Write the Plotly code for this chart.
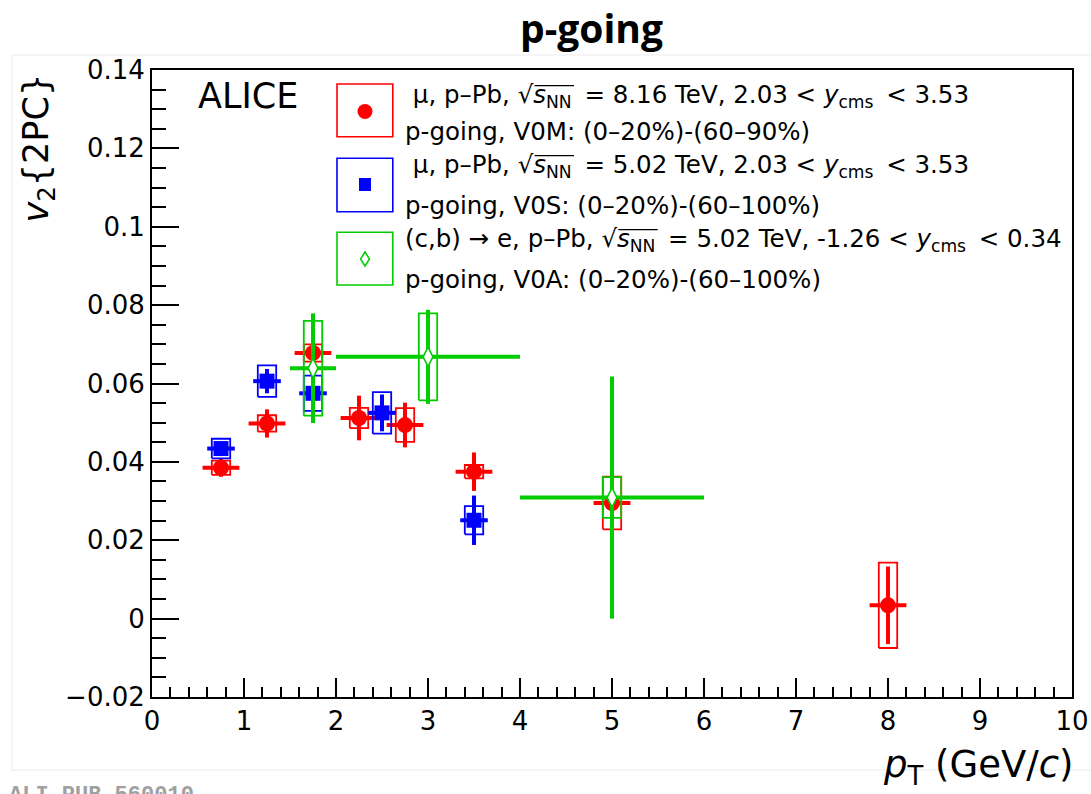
import plotly.graph_objects as go

# ---------------- data ----------------
red_x = [0.75, 1.25, 1.75, 2.25, 2.75, 3.5, 5.0, 8.0]
red_y = [0.0385, 0.0498, 0.0678, 0.0512, 0.0494, 0.0375, 0.0295, 0.0034]
red_xerr = [0.2, 0.2, 0.2, 0.2, 0.2, 0.2, 0.2, 0.2]
red_stat = [0.0023, 0.0036, 0.0020, 0.0057, 0.0057, 0.0049, 0.0030, 0.0099]
red_sys = [0.0018, 0.0021, 0.0022, 0.0026, 0.0043, 0.0017, 0.0067, 0.0109]

blue_x = [0.75, 1.25, 1.75, 2.5, 3.5]
blue_y = [0.0434, 0.0606, 0.0575, 0.0525, 0.0251]
blue_xerr = [0.15, 0.15, 0.15, 0.15, 0.15]
blue_stat = [0.0015, 0.0031, 0.0030, 0.0047, 0.0063]
blue_sys = [0.0025, 0.0040, 0.0045, 0.0053, 0.0036]

green_x = [1.75, 3.0, 5.0]
green_y = [0.0639, 0.0668, 0.0309]
green_xerr = [0.25, 1.0, 1.0]
green_stat = [0.0140, 0.0120, 0.0309]
green_sys = [0.0121, 0.0111, 0.0052]

TS = "\u2009"  # thin space
legend_lines = [
    " μ, p–Pb, √<i>s</i><sub>NN</sub>" + TS + " = 8.16 TeV, 2.03 &lt; <i>y</i><sub>cms</sub>" + TS + " &lt; 3.53",
    "p-going, V0M: (0–20%)-(60–90%)",
    " μ, p–Pb, √<i>s</i><sub>NN</sub>" + TS + " = 5.02 TeV, 2.03 &lt; <i>y</i><sub>cms</sub>" + TS + " &lt; 3.53",
    "p-going, V0S: (0–20%)-(60–100%)",
    "(c,b) → e, p–Pb, √<i>s</i><sub>NN</sub>" + TS + " = 5.02 TeV, -1.26 &lt; <i>y</i><sub>cms</sub>" + TS + " &lt; 0.34",
    "p-going, V0A: (0–20%)-(60–100%)",
]

RED = "#FF0000"
BLUE = "#0000FF"
GREEN = "#00CC00"
FONT = "DejaVu Sans"

W, H = 1091, 794
L, R, T, B = 152, 19, 70, 97
PW, PH = W - L - R, H - T - B


def px(xp):
    return (xp - L) / PW


def py(yp):
    return (H - B - yp) / PH


def box_trace(xs, ys, sys, hw, color):
    bx, by = [], []
    for x, y, s in zip(xs, ys, sys):
        bx += [x - hw, x + hw, x + hw, x - hw, x - hw, None]
        by += [y - s, y - s, y + s, y + s, y - s, None]
    return go.Scatter(x=bx, y=by, mode="lines", line=dict(color=color, width=1.8),
                      hoverinfo="skip", showlegend=False)


def point_trace(xs, ys, xe, ye, color, symbol, size, fill, lw):
    return go.Scatter(
        x=xs, y=ys, mode="markers",
        marker=dict(symbol=symbol, size=size, color=fill, line=dict(color=color, width=lw)),
        error_x=dict(type="data", array=xe, symmetric=True, color=color, thickness=4, width=0),
        error_y=dict(type="data", array=ye, symmetric=True, color=color, thickness=4, width=0),
        showlegend=False,
    )


fig = go.Figure()
fig.add_trace(box_trace(red_x, red_y, red_sys, 0.1, RED))
fig.add_trace(point_trace(red_x, red_y, red_xerr, red_stat, RED, "circle", 16, RED, 0))
fig.add_trace(box_trace(blue_x, blue_y, blue_sys, 0.1, BLUE))
fig.add_trace(point_trace(blue_x, blue_y, blue_xerr, blue_stat, BLUE, "square", 15, BLUE, 0))
fig.add_trace(box_trace(green_x, green_y, green_sys, 0.1, GREEN))
fig.add_trace(point_trace(green_x, green_y, green_xerr, green_stat, GREEN, "diamond-tall", 14, "white", 1.6))

axis_common = dict(
    showgrid=False, zeroline=False, showline=True, linecolor="black", linewidth=2,
    mirror=True, ticks="inside", tickcolor="black", tickwidth=1.5, automargin=False,
    tickfont=dict(family=FONT, size=26, color="black"),
)
fig.update_xaxes(range=[0, 10], tick0=0, dtick=1, ticklen=19,
                 minor=dict(dtick=0.2, ticks="inside", ticklen=10, tickcolor="black", tickwidth=1.5),
                 **axis_common)
fig.update_yaxes(range=[-0.02, 0.14], tick0=0, dtick=0.02, ticklen=27,
                 minor=dict(dtick=0.005, ticks="inside", ticklen=14, tickcolor="black", tickwidth=1.5),
                 **axis_common)

ann = []
ann.append(dict(text="<b>p-going</b>", x=px(591), y=py(27), xref="paper", yref="paper",
                xanchor="center", yanchor="middle", showarrow=False,
                font=dict(family="Open Sans", size=39, color="black")))
ann.append(dict(text="ALICE", x=px(196), y=py(96), xref="paper", yref="paper",
                xanchor="left", yanchor="middle", showarrow=False,
                font=dict(family=FONT, size=35, color="black")))
ann.append(dict(text="<i>v</i><sub>2</sub>{2PC}", x=px(38), y=py(72), xref="paper", yref="paper",
                xanchor="center", yanchor="top", textangle=-90, showarrow=False,
                font=dict(family=FONT, size=35, color="black")))
ann.append(dict(text="<i>p</i><sub>T</sub> (GeV/<i>c</i>)", x=px(1076), y=py(767), xref="paper", yref="paper",
                xanchor="right", yanchor="middle", showarrow=False,
                font=dict(family=FONT, size=37, color="black")))
ann.append(dict(text="<b>ALI-PUB-560010</b>", x=px(7), y=py(781), xref="paper", yref="paper",
                xanchor="left", yanchor="top", showarrow=False,
                font=dict(family="Liberation Mono", size=22, color="#A0A0A0")))

LFS = 24.5
line_y = [96, 131, 166, 206, 240, 279]
line_x = [403, 403, 403, 403, 403, 403]
for txt, lx, ly in zip(legend_lines, line_x, line_y):
    ann.append(dict(text=txt, x=px(lx), y=py(ly), xref="paper", yref="paper",
                    xanchor="left", yanchor="middle", showarrow=False,
                    font=dict(family=FONT, size=LFS, color="black")))

shapes = []
# faint outer frame of the original image
shapes.append(dict(type="rect", xref="paper", yref="paper", x0=px(12), x1=px(1100), y0=py(55), y1=py(770),
                   line=dict(color="#EBEBEB", width=1), layer="below"))
# legend boxes
for (y0, y1, c) in [(84, 136.7, RED), (158.3, 211.7, BLUE), (232.3, 285, GREEN)]:
    shapes.append(dict(type="rect", xref="paper", yref="paper", x0=px(337), x1=px(392.8),
                       y0=py(y1), y1=py(y0), line=dict(color=c, width=1.6)))
shapes.append(dict(type="circle", xref="paper", yref="paper", x0=px(357.5), x1=px(372.5),
                   y0=py(119), y1=py(104), fillcolor=RED, line=dict(width=0)))
shapes.append(dict(type="rect", xref="paper", yref="paper", x0=px(359), x1=px(371),
                   y0=py(191), y1=py(178), fillcolor=BLUE, line=dict(width=0)))
cx, cy = 365, 259
dpath = "M {},{} L {},{} L {},{} L {},{} Z".format(
    px(cx), py(cy - 7), px(cx + 4.5), py(cy), px(cx), py(cy + 7), px(cx - 4.5), py(cy))
shapes.append(dict(type="path", xref="paper", yref="paper", path=dpath,
                   line=dict(color=GREEN, width=1.5)))

# square-root overbars (estimated from DejaVu Sans metrics)
em = LFS
pre1 = (0.318 + 0.636 + 0.318 + 0.318 + 0.635 + 0.5 + 0.603 + 0.635 + 0.318 + 0.318) * em
pre5 = (0.39 + 0.55 + 0.318 + 0.635 + 0.39 + 0.318 + 0.838 + 0.318 + 0.615 + 0.318 + 0.318
        + 0.635 + 0.5 + 0.603 + 0.635 + 0.318 + 0.318) * em
sq_w = 0.838 * em
rad_len = (0.521 + 2 * 0.748 * 0.7) * em
for pre, ly in [(pre1, line_y[0]), (pre1, line_y[2]), (pre5, line_y[4])]:
    xs = 403 + pre + sq_w * 0.92
    yb = ly + 0.35 * em - 0.77 * em
    shapes.append(dict(type="line", xref="paper", yref="paper", x0=px(xs), x1=px(xs + rad_len + 1),
                       y0=py(yb), y1=py(yb), line=dict(color="black", width=1.3)))

fig.update_layout(
    width=W, height=H, margin=dict(l=L, r=R, t=T, b=B),
    paper_bgcolor="white", plot_bgcolor="white", showlegend=False,
    annotations=ann, shapes=shapes,
)

fig.write_html("out.html")
